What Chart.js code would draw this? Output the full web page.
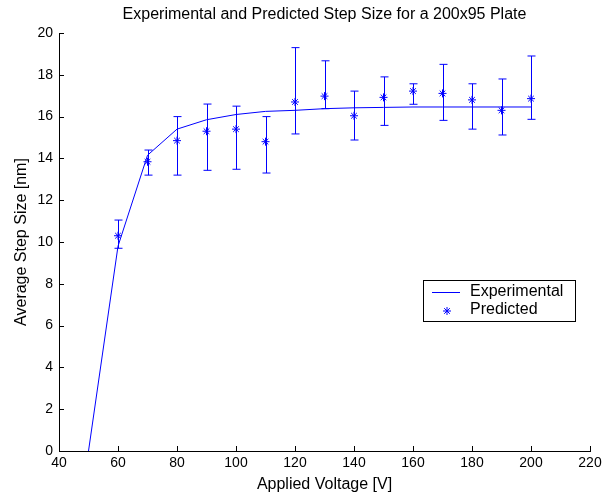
<!DOCTYPE html>
<html>
<head>
<meta charset="utf-8">
<script src="https://cdn.jsdelivr.net/npm/chart.js@4"></script>
<style>
  html, body { margin: 0; padding: 0; background: #fff; }
  #wrap { width: 615px; height: 496px; }
</style>
</head>
<body>
<div id="wrap"><canvas id="stepChart" width="615" height="496"></canvas></div>
<script>
'use strict';

/* ---- data ---- */
const expVolts = [50, 60, 70, 80, 90, 100, 110, 120, 130, 140, 150, 160, 170, 180, 190, 200];
const expStep  = [0, 9.8, 14.15, 15.4, 15.85, 16.1, 16.25, 16.3, 16.38, 16.42, 16.44, 16.46, 16.46, 16.46, 16.46, 16.46];

const predVolts = [60, 70, 80, 90, 100, 110, 120, 130, 140, 150, 160, 170, 180, 190, 200];
const predStep  = [10.3, 13.84, 14.85, 15.3, 15.4, 14.8, 16.7, 16.98, 16.04, 16.92, 17.22, 17.11, 16.8, 16.3, 16.86];
const errHigh   = [11.05, 14.4, 16.0, 16.6, 16.5, 16.0, 19.3, 18.67, 17.22, 17.9, 17.57, 18.5, 17.57, 17.8, 18.9];
const errLow    = [9.7, 13.2, 13.2, 13.43, 13.48, 13.3, 15.17, 16.38, 14.88, 15.58, 16.59, 15.82, 15.4, 15.12, 15.87];

const chartTitle = 'Experimental and Predicted Step Size for a 200x95 Plate';
const legendLabels = ['Experimental', 'Predicted'];

const BLUE = '#0000ff';
const FONT = 'Liberation Sans, Arial, sans-serif';
const TEXT_SIZE = 16;
const TICK_SIZE = 14;

/* error bars, drawn under the stars */
const errorBars = {
    id: 'errorBars',
    beforeDatasetsDraw(chart) {
        const { ctx, scales: { x, y } } = chart;
        ctx.save();
        ctx.strokeStyle = BLUE;
        ctx.lineWidth = 1;
        predVolts.forEach((v, i) => {
            const px = Math.round(x.getPixelForValue(v)) + 0.5;
            const top = y.getPixelForValue(errHigh[i]);
            const bot = y.getPixelForValue(errLow[i]);
            ctx.beginPath();
            ctx.moveTo(px, top); ctx.lineTo(px, bot);
            ctx.moveTo(px - 4, top); ctx.lineTo(px + 4, top);
            ctx.moveTo(px - 4, bot); ctx.lineTo(px + 4, bot);
            ctx.stroke();
        });
        ctx.restore();
    },
};

/* matlab-ish inward ticks, title over the axes, legend box */
const axesDecor = {
    id: 'axesDecor',
    afterDraw(chart) {
        const { ctx, chartArea: a, scales: { x, y } } = chart;
        ctx.save();
        ctx.strokeStyle = '#000';
        ctx.lineWidth = 1;
        ctx.beginPath();
        x.ticks.forEach(t => {
            const px = Math.round(x.getPixelForValue(t.value)) + 0.5;
            ctx.moveTo(px, a.bottom); ctx.lineTo(px, a.bottom - 5);
        });
        y.ticks.forEach(t => {
            const py = Math.round(y.getPixelForValue(t.value)) + 0.5;
            ctx.moveTo(a.left, py); ctx.lineTo(a.left + 5, py);
        });
        ctx.stroke();

        ctx.fillStyle = '#000';
        ctx.font = TEXT_SIZE + 'px ' + FONT;
        ctx.textAlign = 'center';
        ctx.textBaseline = 'middle';
        ctx.fillText(chartTitle, (a.left + a.right) / 2, 14.5);

        // legend
        ctx.fillStyle = '#fff';
        ctx.fillRect(423, 280, 152, 41);
        ctx.strokeRect(423.5, 280.5, 152, 41);
        ctx.strokeStyle = BLUE;
        ctx.beginPath();
        ctx.moveTo(432, 292.5); ctx.lineTo(460, 292.5);
        ctx.stroke();
        Chart.helpers.drawPoint(ctx, { pointStyle: 'star', radius: 4, borderWidth: 1 }, 447, 311);
        ctx.fillStyle = '#000';
        ctx.textAlign = 'left';
        ctx.fillText(legendLabels[0], 470, 292);
        ctx.fillText(legendLabels[1], 470, 310);
        ctx.restore();
    },
};

new Chart(document.getElementById('stepChart').getContext('2d'), {
    data: {
        datasets: [
            {
                type: 'line', label: legendLabels[0],
                data: expVolts.map((v, i) => ({ x: v, y: expStep[i] })),
                borderColor: BLUE, borderWidth: 1, pointRadius: 0, tension: 0, fill: false,
            },
            {
                type: 'scatter', label: legendLabels[1],
                data: predVolts.map((v, i) => ({ x: v, y: predStep[i] })),
                pointStyle: 'star', pointRadius: 4, borderColor: BLUE, backgroundColor: BLUE, borderWidth: 1,
            },
        ],
    },
    options: {
        responsive: false,
        animation: false,
        layout: { padding: { left: 0, right: 25, top: 33, bottom: 0 } },
        plugins: {
            legend: { display: false },
            tooltip: { enabled: false },
            title: { display: false },
        },
        scales: {
            x: {
                type: 'linear', min: 40, max: 220,
                ticks: { stepSize: 20, color: '#000', font: { family: FONT, size: TICK_SIZE }, padding: 4, maxRotation: 0 },
                grid: { display: false, drawTicks: false },
                border: { display: true, color: '#000', width: 1 },
                title: { display: true, text: 'Applied Voltage [V]', color: '#000', font: { family: FONT, size: TEXT_SIZE }, padding: { top: 0, bottom: 1.5 } },
                afterFit: s => { s.height = 45; },
            },
            y: {
                type: 'linear', min: 0, max: 20,
                ticks: { stepSize: 2, color: '#000', font: { family: FONT, size: TICK_SIZE }, padding: 6 },
                grid: { display: false, drawTicks: false },
                border: { display: true, color: '#000', width: 1 },
                title: { display: true, text: 'Average Step Size [nm]', color: '#000', font: { family: FONT, size: TEXT_SIZE }, padding: { top: 12, bottom: 0 } },
                afterFit: s => { s.width = 59; },
            },
        },
    },
    plugins: [errorBars, axesDecor],
});
</script>
</body>
</html>
